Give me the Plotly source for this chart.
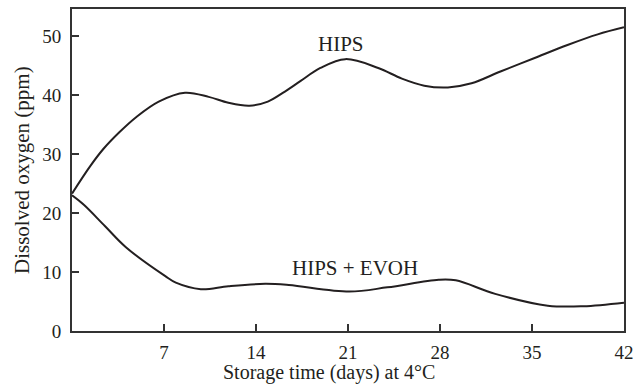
import plotly.graph_objects as go

# HIPS curve
hips_x = [0, 1.4, 2.4, 3.6, 4.9, 6.6, 8.6, 10.4, 11.9, 13.5, 14.9, 16.2, 17.4, 18.9, 20.8,
          23.3, 25.1, 26.8, 28.6, 30.4, 32.6, 35.2, 37.7, 40.0, 42]
hips_y = [23.3, 28.0, 30.9, 33.7, 36.3, 38.9, 40.4, 39.7, 38.7, 38.2, 38.9, 40.6, 42.4, 44.6, 46.1,
          44.6, 42.8, 41.6, 41.3, 42.0, 44.0, 46.3, 48.5, 50.3, 51.5]

# HIPS + EVOH curve
evoh_x = [0, 0.9, 2.5, 4.1, 7.1, 7.9, 9.8, 11.9, 14.7, 16.5, 21.1, 24.0, 27.9, 29.2, 32.2,
          36.2, 38.9, 42]
evoh_y = [23.0, 21.4, 17.8, 14.2, 9.3, 8.2, 7.1, 7.6, 8.0, 7.8, 6.7, 7.4, 8.7, 8.6, 6.3,
          4.3, 4.2, 4.8]

x_ticks = [7, 14, 21, 28, 35, 42]
y_ticks = [0, 10, 20, 30, 40, 50]

labels = ["HIPS", "HIPS + EVOH"]
label_x = [20.5, 21.5]
label_y = [48.7, 10.7]

x_title = "Storage time (days) at 4°C"
y_title = "Dissolved oxygen (ppm)"

font_family = "Liberation Serif, Times New Roman, serif"
ink = "#231f20"

fig = go.Figure()
fig.add_trace(go.Scatter(x=hips_x, y=hips_y, mode="lines",
                         line=dict(color=ink, width=2, shape="spline", smoothing=1.0),
                         name=labels[0], showlegend=False))
fig.add_trace(go.Scatter(x=evoh_x, y=evoh_y, mode="lines",
                         line=dict(color=ink, width=2, shape="spline", smoothing=1.0),
                         name=labels[1], showlegend=False))

for t, lx, ly in zip(labels, label_x, label_y):
    fig.add_annotation(x=lx, y=ly, text=t, showarrow=False,
                       font=dict(family=font_family, size=21, color=ink))

# axis titles as paper-anchored annotations
fig.add_annotation(xref="paper", yref="paper", x=0.465, y=0, yanchor="middle",
                   yshift=-41, text=x_title, showarrow=False, borderpad=0,
                   font=dict(family=font_family, size=20, color=ink))
fig.add_annotation(xref="paper", yref="paper", x=0, y=0.5, xanchor="center",
                   xshift=-50, textangle=-90, text=y_title, showarrow=False,
                   font=dict(family=font_family, size=21, color=ink))

axis_common = dict(showline=True, linecolor="#333333", linewidth=2, mirror=True,
                   ticks="inside", ticklen=7, tickwidth=1.5, tickcolor="#333333",
                   showgrid=False, zeroline=False, ticklabeloverflow="allow",
                   tickfont=dict(family=font_family, size=19, color=ink))

fig.update_xaxes(range=[0, 42], tickvals=x_ticks, ticktext=[str(v) for v in x_ticks],
                 ticklabelstandoff=3, **axis_common)
fig.update_yaxes(range=[0, 54.6], tickvals=y_ticks, ticktext=[str(v) for v in y_ticks],
                 ticklabelstandoff=5, **axis_common)

fig.update_layout(width=641, height=389, margin=dict(l=72, r=9, t=7, b=58),
                  plot_bgcolor="white", paper_bgcolor="white")

fig.write_html("out.html", config={"displayModeBar": False},
               post_script="document.body.style.margin='0';document.body.style.overflow='hidden';")
